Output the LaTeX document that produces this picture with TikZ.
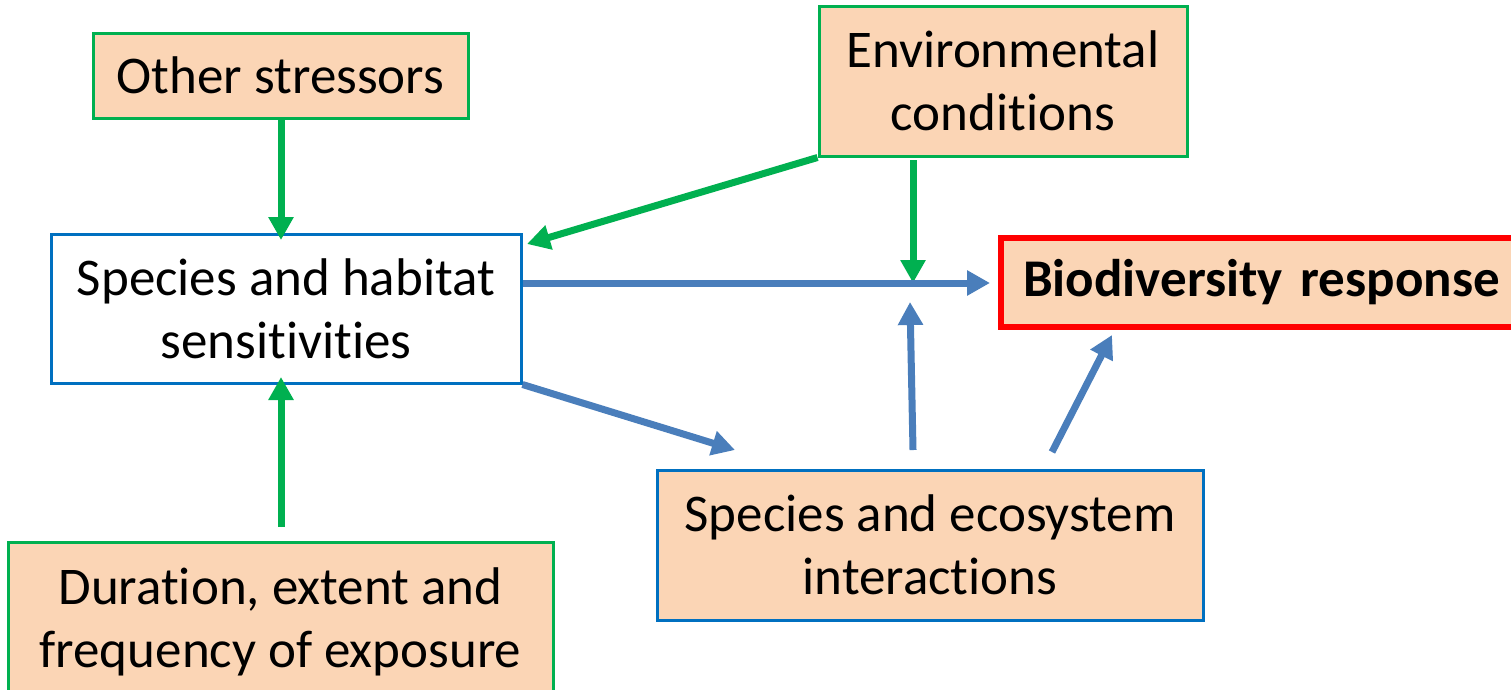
\documentclass[tikz,border=0pt]{standalone}
\usepackage{fontspec}
\setmainfont[Ligatures=NoCommon]{Carlito}
\usetikzlibrary{arrows.meta,calc}
\definecolor{peach}{RGB}{251,213,181}
\definecolor{leaf}{RGB}{0,176,80}
\definecolor{boxblue}{RGB}{0,112,192}
\definecolor{arrowblue}{RGB}{74,126,187}
\definecolor{alarm}{RGB}{255,0,0}
\tikzset{
  x=1pt, y=-1pt,
  box/.style={draw, line width=3pt, inner sep=0pt, align=center,
    font=\fontsize{53}{63}\selectfont},
  driver/.style={box, draw=leaf, fill=peach},
  process/.style={box, draw=boxblue},
  outcome/.style={box, draw=alarm, line width=6pt, fill=peach,
    font=\fontsize{53}{63}\selectfont\bfseries},
  greenarrow/.style={draw=leaf, line width=7pt,
    -{Triangle[length=23pt,width=24pt]}, fill=leaf},
  bluearrow/.style={draw=arrowblue, line width=7pt,
    -{Triangle[length=23pt,width=24pt]}, fill=arrowblue},
}
\begin{document}
\begin{tikzpicture}
\useasboundingbox (0,0) rectangle (1511,689);
\clip (0,0) rectangle (1511,689);

% boxes
\node[driver, minimum width=375pt, minimum height=85pt] (other) at (280.5,75.5) {Other stressors};
\node[process, fill=white, minimum width=470pt, minimum height=149pt] (sens) at (286,308.5) {Species and habitat\\sensitivities};
\node[driver, minimum width=368pt, minimum height=150pt] (env) at (1003,81) {Environmental\\conditions};
\node[outcome, minimum width=540pt, minimum height=89pt, text width=520pt, align=left] (bio) at (1271,282.5) {\hspace*{12pt}Biodiversity response};
\node[process, fill=peach, minimum width=546pt, minimum height=150pt] (inter) at (930,545) {Species and ecosystem\\interactions};
\node[driver, minimum width=545pt, minimum height=160pt] (dur) at (280.5,622) {Duration, extent and\\frequency of exposure};

% connector anchors
\coordinate (junction) at (913,283);
\coordinate (envfoot) at (913,160);
\coordinate (envtip) at (527,244);
\coordinate (lineend) at (990,283);
\coordinate (upfoot) at (913,450);
\coordinate (uptip) at (910,302);
\coordinate (intertip) at (735,450);
\coordinate (biofoot) at (1052,452);
\coordinate (biotip) at (1112,335);
\coordinate (durfoot) at (281,527);
\coordinate (durtip) at (281,377);
\coordinate (othertip) at (281,240);

% green drivers
\draw[greenarrow] (other.south -| othertip) -- (othertip);
\draw[greenarrow] (env.south west) -- (envtip);
\draw[greenarrow] (envfoot) -- (junction);
\draw[greenarrow] (durfoot) -- (durtip);

% blue pathways
\draw[bluearrow] (sens.east |- junction) -- (lineend);
\draw[bluearrow] (upfoot) -- (uptip);
\draw[bluearrow] (sens.south east) -- (intertip);
\draw[bluearrow] (biofoot) -- (biotip);
\end{tikzpicture}
\end{document}
